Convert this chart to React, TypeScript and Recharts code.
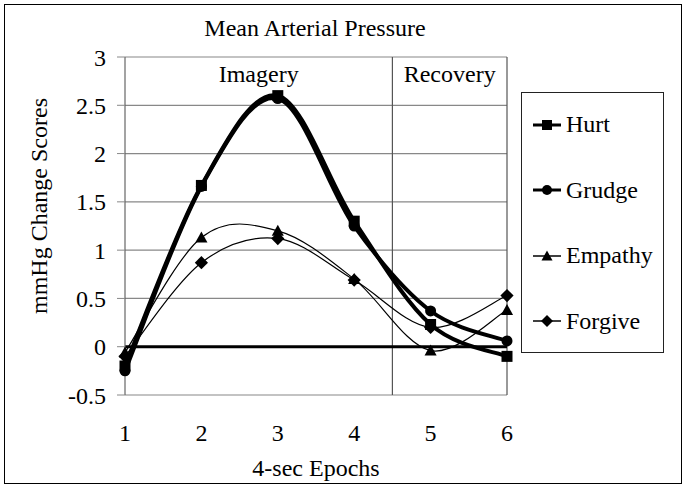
import React from 'react';
import {
  LineChart,
  Line,
  XAxis,
  YAxis,
  CartesianGrid,
  ReferenceLine,
  ReferenceArea,
} from 'recharts';

const epochs = [1, 2, 3, 4, 5, 6];
const hurt = [-0.2, 1.67, 2.6, 1.3, 0.23, -0.1];
const grudge = [-0.25, 1.66, 2.57, 1.25, 0.37, 0.06];
const empathy = [-0.06, 1.13, 1.2, 0.7, -0.04, 0.38];
const forgive = [-0.1, 0.87, 1.12, 0.69, 0.2, 0.53];
const yTicks = [-0.5, 0, 0.5, 1, 1.5, 2, 2.5, 3];

const data = epochs.map((e, i) => ({
  epoch: e,
  Hurt: hurt[i],
  Grudge: grudge[i],
  Empathy: empathy[i],
  Forgive: forgive[i],
}));

const FONT = '"Liberation Serif", "Times New Roman", serif';
const FS = 24;

// Excel-style smoothed line (Catmull-Rom through every point)
const smoothCurve = (context: any) => {
  let pts: number[][] = [];
  return {
    areaStart() {},
    areaEnd() {},
    lineStart() {
      pts = [];
    },
    point(x: number, y: number) {
      pts.push([+x, +y]);
    },
    lineEnd() {
      if (!pts.length) return;
      context.moveTo(pts[0][0], pts[0][1]);
      for (let i = 0; i < pts.length - 1; i++) {
        const p0 = pts[i - 1] || pts[i];
        const p1 = pts[i];
        const p2 = pts[i + 1];
        const p3 = pts[i + 2] || pts[i + 1];
        context.bezierCurveTo(
          p1[0] + (p2[0] - p0[0]) / 6,
          p1[1] + (p2[1] - p0[1]) / 6,
          p2[0] - (p3[0] - p1[0]) / 6,
          p2[1] - (p3[1] - p1[1]) / 6,
          p2[0],
          p2[1]
        );
      }
    },
  };
};

const Marker = ({ shape, cx, cy, s }: { shape: string; cx: number; cy: number; s: number }) => {
  if (shape === 'square')
    return <rect x={cx - s / 2} y={cy - s / 2} width={s} height={s} fill="#000" />;
  if (shape === 'circle') return <circle cx={cx} cy={cy} r={s / 2} fill="#000" />;
  if (shape === 'triangle')
    return (
      <polygon
        points={`${cx},${cy - s * 0.55} ${cx - s * 0.55},${cy + s * 0.45} ${cx + s * 0.55},${cy + s * 0.45}`}
        fill="#000"
      />
    );
  return (
    <polygon
      points={`${cx},${cy - s * 0.6} ${cx + s * 0.6},${cy} ${cx},${cy + s * 0.6} ${cx - s * 0.6},${cy}`}
      fill="#000"
    />
  );
};

const dot = (shape: string, s: number) => (props: any) => (
  <Marker key={props.index} shape={shape} cx={props.cx} cy={props.cy} s={s} />
);

const series = [
  { key: 'Hurt', shape: 'square', size: 11, width: 4 },
  { key: 'Grudge', shape: 'circle', size: 11, width: 4 },
  { key: 'Empathy', shape: 'triangle', size: 11, width: 1.2 },
  { key: 'Forgive', shape: 'diamond', size: 11, width: 1.2 },
];

const App: React.FC = () => {
  return (
    <div
      style={{
        position: 'absolute',
        left: 0,
        top: 0,
        width: 686,
        height: 488,
        background: '#fff',
        fontFamily: FONT,
      }}
    >
      <div
        style={{
          position: 'absolute',
          left: 4,
          top: 4,
          width: 676,
          height: 478,
          border: '1.5px solid #000',
        }}
      />
      <div
        style={{
          position: 'absolute',
          left: 0,
          width: 630,
          top: 15,
          textAlign: 'center',
          fontSize: FS,
          color: '#000',
        }}
      >
        Mean Arterial Pressure
      </div>
      <div style={{ position: 'absolute', left: 0, top: 0 }}>
        <LineChart
          width={686}
          height={488}
          data={data}
          margin={{ top: 57, right: 179, bottom: 12, left: 65 }}
        >
          <CartesianGrid vertical={false} stroke="#888" strokeWidth={1.2} />
          <XAxis
            dataKey="epoch"
            type="number"
            domain={[1, 6]}
            ticks={epochs}
            axisLine={false}
            tickLine={false}
            tickMargin={23}
            height={81}
            tick={{ fill: '#000', fontSize: FS, fontFamily: FONT }}
            label={{
              value: '4-sec Epochs',
              position: 'insideBottom',
              offset: 0,
              fill: '#000',
              fontSize: FS,
              fontFamily: FONT,
            }}
          />
          <YAxis
            type="number"
            domain={[-0.5, 3]}
            ticks={yTicks}
            width={60}
            tickSize={8}
            tickMargin={11}
            axisLine={{ stroke: '#666', strokeWidth: 1.2 }}
            tickLine={{ stroke: '#888' }}
            tick={{ fill: '#000', fontSize: FS, fontFamily: FONT }}
            label={{
              value: 'mmHg Change Scores',
              angle: -90,
              position: 'insideLeft',
              offset: -27,
              dy: -20,
              fill: '#000',
              fontSize: FS,
              fontFamily: FONT,
              style: { textAnchor: 'middle' },
            }}
          />
          <ReferenceArea
            x1={1}
            x2={4.5}
            fill="none"
            fillOpacity={0}
            label={{ value: 'Imagery', position: 'insideTop', offset: 8, fill: '#000', fontSize: FS, fontFamily: FONT }}
          />
          <ReferenceArea
            x1={4.5}
            x2={6}
            fill="none"
            fillOpacity={0}
            label={{ value: 'Recovery', position: 'insideTop', offset: 8, fill: '#000', fontSize: FS, fontFamily: FONT }}
          />
          <ReferenceLine x={4.5} stroke="#555" strokeWidth={1.2} />
          <ReferenceLine x={6} stroke="#555" strokeWidth={1.2} />
          <ReferenceLine y={0} stroke="#000" strokeWidth={3} />
          {series.map((s) => (
            <Line
              key={s.key}
              dataKey={s.key}
              type={smoothCurve as any}
              stroke="#000"
              strokeWidth={s.width}
              dot={dot(s.shape, s.size)}
              activeDot={false}
              isAnimationActive={false}
            />
          ))}
        </LineChart>
      </div>
      <div
        style={{
          position: 'absolute',
          left: 521,
          top: 92,
          width: 143,
          height: 261,
          border: '1.2px solid #222',
          boxSizing: 'border-box',
        }}
      >
        {series.map((s, i) => (
          <div
            key={s.key}
            style={{
              position: 'absolute',
              left: 10,
              top: 18 + i * 65.5,
              display: 'flex',
              alignItems: 'center',
              fontSize: FS,
              color: '#000',
            }}
          >
            <svg width={30} height={20}>
              <line x1={1} y1={10} x2={29} y2={10} stroke="#000" strokeWidth={s.width > 2 ? 3 : 1.5} />
              <Marker shape={s.shape} cx={15} cy={10} s={10} />
            </svg>
            <span style={{ marginLeft: 4 }}>{s.key}</span>
          </div>
        ))}
      </div>
    </div>
  );
};

export default App;
